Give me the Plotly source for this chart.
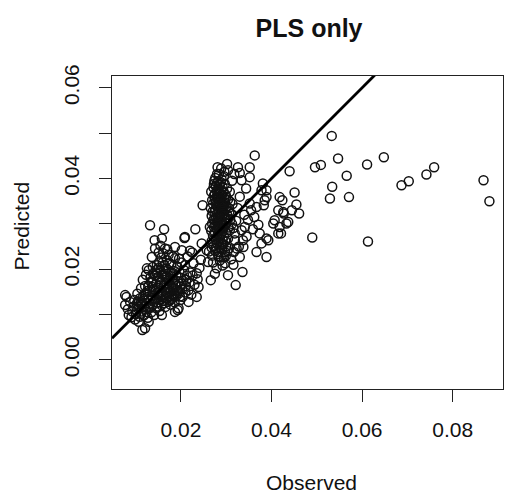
import plotly.graph_objects as go

# ---------------- data ----------------
left_obs = [0.0077,0.0077,0.0085,0.0080,0.0083,0.0088,0.0091,0.0093,0.0096,0.0097,0.0099,0.0101,0.0103,0.0104,0.0106,0.0107,0.0109,0.0110,0.0112,0.0113,
            0.0114,0.0115,0.0116,0.0118,0.0119,0.0120,0.0121,0.0122,0.0123,0.0124,0.0125,0.0126,0.0127,0.0128,0.0129,0.0130,0.0131,0.0132,0.0133,0.0134,
            0.0135,0.0136,0.0137,0.0138,0.0139,0.0140,0.0141,0.0142,0.0143,0.0144,0.0145,0.0146,0.0147,0.0148,0.0149,0.0150,0.0151,0.0152,0.0153,0.0154,
            0.0155,0.0156,0.0157,0.0158,0.0158,0.0159,0.0160,0.0161,0.0162,0.0163,0.0164,0.0165,0.0166,0.0167,0.0168,0.0169,0.0170,0.0171,0.0172,0.0173,
            0.0174,0.0175,0.0176,0.0177,0.0178,0.0179,0.0180,0.0181,0.0182,0.0183,0.0184,0.0185,0.0186,0.0187,0.0187,0.0187,0.0188,0.0189,0.0190,0.0191,
            0.0192,0.0193,0.0194,0.0195,0.0196,0.0197,0.0198,0.0199,0.0200,0.0201,0.0202,0.0203,0.0204,0.0205,0.0207,0.0208,0.0209,0.0209,0.0210,0.0211,
            0.0213,0.0215,0.0217,0.0217,0.0219,0.0221,0.0223,0.0225,0.0228,0.0230,0.0232,0.0235,0.0235,0.0239,0.0237,0.0241,0.0246,0.0244,
            0.0105,0.0112,0.0118,0.0124,0.0128,0.0133,0.0137,0.0141,0.0144,0.0148,0.0150,0.0153,0.0156,0.0160,0.0163,0.0166,0.0169,0.0172,0.0176,0.0179,
            0.0183,0.0186,0.0190,0.0194,0.0198,0.0202,0.0133,0.0138,0.0146,0.0152,0.0157,0.0162,0.0167,0.0171,0.0175,0.0180,0.0184,0.0161,0.0170,0.0155,
            0.0108,0.0117,0.0126,0.0135,0.0143,0.0151,0.0159,0.0168,0.0177,0.0121,0.0139,0.0147,0.0164,0.0174,0.0111,0.0129,0.0212,0.0226,0.0220,0.0196]
left_pred = [0.0143,0.0121,0.0099,0.0139,0.0112,0.0128,0.0094,0.0107,0.0118,0.0132,0.0089,0.0101,0.0124,0.0146,0.0113,0.0084,0.0095,0.0136,0.0158,0.0107,
             0.0121,0.0066,0.0177,0.0098,0.0131,0.0145,0.0070,0.0112,0.0188,0.0125,0.0202,0.0139,0.0093,0.0163,0.0084,0.0118,0.0150,0.0297,0.0131,0.0173,
             0.0105,0.0227,0.0142,0.0122,0.0190,0.0156,0.0099,0.0264,0.0246,0.0134,0.0168,0.0114,0.0209,0.0147,0.0126,0.0183,0.0237,0.0159,0.0108,0.0138,
             0.0197,0.0172,0.0121,0.0268,0.0099,0.0149,0.0215,0.0130,0.0164,0.0288,0.0186,0.0246,0.0117,0.0142,0.0201,0.0220,0.0155,0.0128,0.0176,0.0232,
             0.0139,0.0166,0.0192,0.0122,0.0151,0.0210,0.0135,0.0179,0.0160,0.0228,0.0145,0.0196,0.0127,0.0249,0.0224,0.0106,0.0168,0.0140,0.0186,0.0154,
             0.0206,0.0110,0.0173,0.0114,0.0147,0.0193,0.0162,0.0132,0.0181,0.0215,0.0242,0.0156,0.0139,0.0174,0.0198,0.0269,0.0209,0.0271,0.0149,0.0163,
             0.0186,0.0228,0.0128,0.0154,0.0171,0.0193,0.0144,0.0237,0.0213,0.0166,0.0288,0.0191,0.0139,0.0161,0.0178,0.0203,0.0257,0.0221,
             0.0129,0.0102,0.0116,0.0106,0.0134,0.0115,0.0161,0.0128,0.0152,0.0118,0.0143,0.0178,0.0134,0.0143,0.0125,0.0159,0.0137,0.0149,0.0131,0.0144,
             0.0157,0.0142,0.0163,0.0151,0.0140,0.0168,0.0182,0.0205,0.0193,0.0215,0.0226,0.0196,0.0184,0.0199,0.0214,0.0193,0.0176,0.0235,0.0244,0.0252,
             0.0117,0.0141,0.0152,0.0170,0.0186,0.0203,0.0188,0.0170,0.0185,0.0163,0.0176,0.0199,0.0209,0.0159,0.0124,0.0198,0.0177,0.0186,0.0241,0.0223]

band_obs = [0.0268,0.0267,0.0269,0.0268,0.0266,0.0269,0.0267,
            0.0272,0.0271,0.0273,0.0272,0.0274,0.0271,0.0273,0.0272,0.0274,
            0.0276,0.0277,0.0275,0.0276,0.0278,0.0276,0.0277,0.0275,0.0277,0.0276,
            0.0279,0.0280,0.0279,0.0281,0.0279,0.0280,0.0281,0.0279,0.0280,
            0.0282,0.0283,0.0282,0.0284,0.0282,0.0283,0.0282,0.0284,0.0283,0.0282,0.0284,
            0.0285,0.0286,0.0285,0.0287,0.0285,0.0286,0.0287,0.0285,0.0286,
            0.0288,0.0289,0.0288,0.0290,0.0288,0.0289,0.0290,0.0288,0.0289,0.0290,
            0.0291,0.0292,0.0291,0.0293,0.0291,0.0292,0.0293,0.0291,0.0292,
            0.0294,0.0295,0.0294,0.0296,0.0294,0.0295,0.0296,0.0294,0.0295,
            0.0297,0.0298,0.0297,0.0299,0.0297,0.0298,0.0299,0.0297,
            0.0300,0.0301,0.0300,0.0302,0.0301,0.0300,0.0302,
            0.0304,0.0305,0.0304,0.0306,0.0304,0.0304,
            0.0308,0.0309,0.0307,0.0309,0.0308,
            0.0313,0.0312,0.0314,0.0313,
            0.0270,0.0278,0.0284,0.0287,0.0293,0.0274,0.0281,0.0289,0.0296,0.0279,0.0286,0.0292,0.0275,0.0283,0.0290,
            0.0271,0.0279,0.0286,0.0266,0.0292,0.0260,0.0257,0.0264,0.0248,0.0275,0.0283,0.0295,0.0262,0.0303,0.0298,
            0.0289,0.0302,0.0326,0.0352,0.0334,0.0352,0.0318,0.0363,0.0330,0.0281,0.0296,
            0.0269,0.0277,0.0284,0.0291,0.0299,0.0306,0.0273,0.0288,0.0268,0.0280]
band_pred = [0.0262,0.0285,0.0301,0.0318,0.0335,0.0352,0.0371,
             0.0251,0.0274,0.0293,0.0309,0.0326,0.0344,0.0362,0.0380,0.0395,
             0.0240,0.0266,0.0282,0.0298,0.0314,0.0331,0.0349,0.0366,0.0384,0.0401,
             0.0256,0.0272,0.0289,0.0305,0.0321,0.0338,0.0355,0.0373,0.0390,
             0.0233,0.0262,0.0278,0.0294,0.0311,0.0327,0.0343,0.0360,0.0377,0.0394,0.0410,
             0.0248,0.0269,0.0286,0.0302,0.0318,0.0334,0.0351,0.0368,0.0386,
             0.0227,0.0259,0.0275,0.0291,0.0308,0.0324,0.0340,0.0357,0.0374,0.0398,
             0.0244,0.0266,0.0283,0.0299,0.0316,0.0332,0.0348,0.0365,0.0382,
             0.0255,0.0272,0.0289,0.0305,0.0322,0.0339,0.0356,0.0372,0.0405,
             0.0238,0.0263,0.0296,0.0313,0.0330,0.0347,0.0364,0.0388,
             0.0251,0.0280,0.0301,0.0320,0.0337,0.0359,0.0378,
             0.0268,0.0292,0.0312,0.0335,0.0354,0.0418,
             0.0286,0.0309,0.0327,0.0349,0.0371,
             0.0300,0.0322,0.0344,0.0395,
             0.0327,0.0342,0.0336,0.0313,0.0327,0.0310,0.0298,0.0350,0.0318,0.0360,0.0292,0.0341,0.0355,0.0370,0.0362,
             0.0215,0.0202,0.0219,0.0176,0.0208,0.0216,0.0242,0.0293,0.0341,0.0190,0.0228,0.0226,0.0239,0.0240,0.0213,
             0.0422,0.0432,0.0425,0.0425,0.0396,0.0403,0.0410,0.0451,0.0412,0.0425,0.0415,
             0.0230,0.0247,0.0238,0.0254,0.0229,0.0246,0.0388,0.0392,0.0248,0.0410]

mid_obs = [0.0381,0.0389,0.0385,0.0367,0.0383,0.0378,0.0389,0.0415,0.0418,0.0404,0.0418,0.0437,0.0374,0.0389,0.0415,0.0367,0.0389,0.0337,0.0323,0.0330,
           0.0304,0.0321,0.0336,0.0407,0.0426,0.0393,0.0378,0.0334,0.0341,0.0319,0.0319,0.0338,0.0317,0.0352,0.0344,0.0330,0.0325,0.0340,0.0355,
           0.0316,0.0322,0.0328,0.0345,0.0359,0.0311,0.0348,0.0362,0.0371,0.0316]
mid_pred = [0.0389,0.0374,0.0352,0.0337,0.0341,0.0374,0.0359,0.0330,0.0359,0.0301,0.0293,0.0304,0.0279,0.0268,0.0279,0.0238,0.0227,0.0264,0.0246,0.0227,
            0.0187,0.0165,0.0194,0.0308,0.0326,0.0264,0.0257,0.0286,0.0293,0.0279,0.0264,0.0249,0.0238,0.0345,0.0378,0.0360,0.0335,0.0320,0.0330,
            0.0291,0.0307,0.0250,0.0272,0.0288,0.0222,0.0309,0.0315,0.0298,0.0210]

far_obs = [0.0533,0.0547,0.0496,0.0509,0.0440,0.0611,0.0648,0.0566,0.0534,0.0529,0.0571,0.0687,0.0703,0.0742,0.0759,0.0868,0.0881,0.0490,0.0613,
           0.0451,0.0424,0.0455,0.0445,0.0461,0.0427,0.0433,0.0421]
far_pred = [0.0494,0.0444,0.0425,0.0430,0.0416,0.0431,0.0447,0.0406,0.0382,0.0356,0.0359,0.0385,0.0394,0.0409,0.0425,0.0396,0.0350,0.0270,0.0261,
            0.0369,0.0352,0.0343,0.0330,0.0323,0.0323,0.0301,0.0279]

observed = left_obs + band_obs + mid_obs + far_obs
predicted = left_pred + band_pred + mid_pred + far_pred

x_range = [0.0048, 0.0911]
y_range = [-0.0064, 0.0626]
x_ticks = [0.02, 0.04, 0.06, 0.08]
x_tick_text = ["0.02", "0.04", "0.06", "0.08"]
y_ticks = [0.00, 0.01, 0.02, 0.03, 0.04, 0.05, 0.06]
y_tick_text = ["0.00", "", "0.02", "", "0.04", "", "0.06"]

FONT = "Liberation Sans, Arial, sans-serif"

fig = go.Figure()
fig.add_trace(go.Scatter(
    x=observed, y=predicted, mode="markers",
    marker=dict(symbol="circle-open", size=9, color="#111", line=dict(width=1.5, color="#111")),
    showlegend=False, hoverinfo="skip"))
# identity line (abline(0, 1)) spanning the axis range
fig.add_trace(go.Scatter(
    x=x_range, y=x_range, mode="lines",
    line=dict(color="black", width=2.8), showlegend=False, hoverinfo="skip"))

fig.update_layout(
    width=505, height=498,
    margin=dict(l=112, r=2, t=76, b=109),
    paper_bgcolor="white", plot_bgcolor="white",
    font=dict(family=FONT, size=21, color="#111"),
    title=dict(text="<b>PLS only</b>", x=0.612, xanchor="center", y=0.944, yanchor="middle",
               font=dict(family=FONT, size=25, color="#111")),
)
fig.update_xaxes(range=x_range, tickvals=x_ticks, ticktext=x_tick_text,
                 showgrid=False, zeroline=False, showline=True, linecolor="#222", linewidth=1.2, mirror=True,
                 ticks="outside", ticklen=12, tickwidth=1.2, tickcolor="#222", ticklabelstandoff=10)
fig.update_yaxes(range=y_range, tickvals=y_ticks, ticktext=y_tick_text, tickangle=-90,
                 showgrid=False, zeroline=False, showline=True, linecolor="#222", linewidth=1.2, mirror=True,
                 ticks="outside", ticklen=12, tickwidth=1.2, tickcolor="#222", ticklabelstandoff=12)

fig.add_annotation(text="Observed", xref="paper", yref="paper", x=0.51, y=-0.30,
                   xanchor="center", yanchor="middle", showarrow=False, font=dict(size=21))
fig.add_annotation(text="Predicted", xref="paper", yref="paper", x=-0.232, y=0.52, textangle=-90,
                   xanchor="center", yanchor="middle", showarrow=False, font=dict(size=21))

fig.write_html("out.html")
